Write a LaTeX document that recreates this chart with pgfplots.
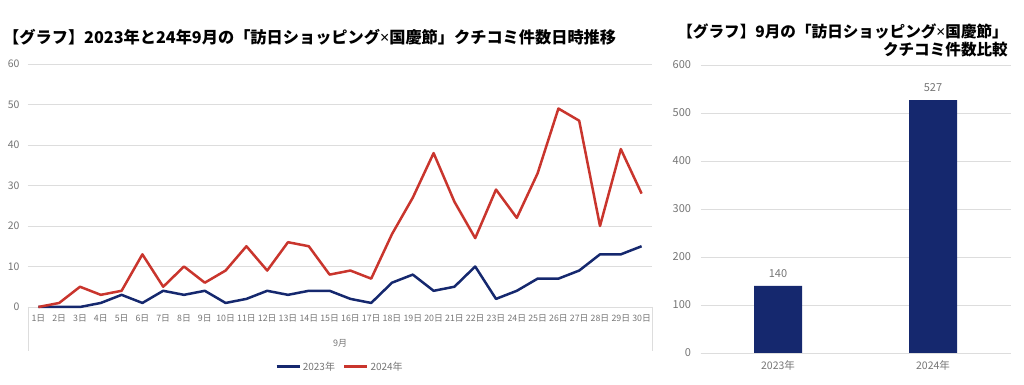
\documentclass[border=0pt]{standalone}
\usepackage{fontspec}
\setmainfont{Noto Sans CJK JP}
\newfontfamily\latinfont{Noto Sans}
\usepackage{pgfplots}
\pgfplotsset{compat=1.18}
\definecolor{navy}{HTML}{15286E}
\definecolor{redl}{HTML}{C9352D}
\definecolor{gridc}{HTML}{DDDDDD}
\definecolor{tickc}{HTML}{757575}
\newcommand{\tm}{{\latinfont ×}}
\begin{document}
\begin{tikzpicture}[x=1pt,y=1pt]
\begin{axis}[
  at={(28pt,78pt)}, anchor=south west,
  scale only axis, width=624pt, height=243pt,
  xmin=0.5, xmax=30.5, ymin=0, ymax=60,
  ytick={0,10,...,60},
  xtick={1,...,30},
  xticklabels={1日,2日,3日,4日,5日,6日,7日,8日,9日,10日,11日,12日,13日,14日,15日,16日,17日,18日,19日,20日,21日,22日,23日,24日,25日,26日,27日,28日,29日,30日},
  ymajorgrids, grid style={gridc, line width=0.9pt},
  axis line style={draw=none},
  major tick length=0pt,
  /pgf/number format/assume math mode=true,
  yticklabel style={font=\fontsize{10.5}{11}\selectfont, text=tickc, xshift=-5pt},
  xticklabel style={font=\fontsize{8.8}{10}\selectfont, text=tickc, yshift=-4pt},
  clip=false,
  legend columns=2,
  legend style={at={(0.5,-0.245)}, anchor=center, draw=none, fill=none,
    font=\fontsize{10}{11}\selectfont, text=tickc,
    /tikz/every even column/.append style={column sep=6pt}},
  legend image code/.code={\draw[#1] (0pt,0pt) -- (23pt,0pt);},
]
\draw[gridc, line width=0.9pt] (rel axis cs:0,0) -- (rel axis cs:1,0);
\draw[gridc, line width=0.9pt] (rel axis cs:0,0) -- ++(0pt,-44pt);
\draw[gridc, line width=0.9pt] (rel axis cs:1,0) -- ++(0pt,-44pt);
\node[font=\fontsize{9}{10}\selectfont, text=tickc] at (axis cs:15.5,0) [yshift=-36pt] {9月};
\addplot[navy, line width=2.5pt, line join=round] coordinates {
(1,0)(2,0)(3,0)(4,1)(5,3)(6,1)(7,4)(8,3)(9,4)(10,1)(11,2)(12,4)(13,3)(14,4)(15,4)(16,2)(17,1)(18,6)(19,8)(20,4)(21,5)(22,10)(23,2)(24,4)(25,7)(26,7)(27,9)(28,13)(29,13)(30,15)};
\addlegendentry{2023年}
\addplot[redl, line width=2.5pt, line join=round] coordinates {
(1,0)(2,1)(3,5)(4,3)(5,4)(6,13)(7,5)(8,10)(9,6)(10,9)(11,15)(12,9)(13,16)(14,15)(15,8)(16,9)(17,7)(18,18)(19,27)(20,38)(21,26)(22,17)(23,29)(24,22)(25,33)(26,49)(27,46)(28,20)(29,39)(30,28)};
\addlegendentry{2024年}
\end{axis}
\begin{axis}[
  at={(700.5pt,32pt)}, anchor=south west,
  scale only axis, width=310pt, height=288pt,
  xmin=-0.5, xmax=1.5, ymin=0, ymax=600,
  ytick={0,100,...,600},
  xtick={0,1}, xticklabels={2023年,2024年},
  ymajorgrids, grid style={gridc, line width=0.9pt},
  axis line style={draw=none},
  major tick length=0pt,
  /pgf/number format/assume math mode=true,
  yticklabel style={font=\fontsize{11}{12}\selectfont, text=tickc, xshift=-6pt},
  xticklabel style={font=\fontsize{10.5}{11}\selectfont, text=tickc, yshift=-4pt},
  clip=false,
  nodes near coords,
  nodes near coords style={font=\fontsize{11}{12}\selectfont, text=tickc, yshift=5pt},
]
\draw[gridc, line width=0.9pt] (rel axis cs:0,0) -- (rel axis cs:1,0);
\addplot[ybar, bar width=48pt, fill=navy, draw=none] coordinates {(0,140)(1,527)};
\end{axis}
\node[anchor=base west, inner sep=0pt, font=\fontsize{16.2}{17}\selectfont\bfseries] at (3pt,341pt) {【グラフ】2023年と24年9月の「訪日ショッピング\tm 国慶節」クチコミ件数日時推移};
\node[anchor=base east, inner sep=0pt, font=\fontsize{15.6}{16}\selectfont\bfseries] at (1008pt,347pt) {【グラフ】9月の「訪日ショッピング\tm 国慶節」};
\node[anchor=base east, inner sep=0pt, font=\fontsize{15.6}{16}\selectfont\bfseries] at (1008pt,329pt) {クチコミ件数比較};
\pgfresetboundingbox
\path (0pt,0pt) rectangle (1024pt,385pt);
\end{tikzpicture}
\end{document}
